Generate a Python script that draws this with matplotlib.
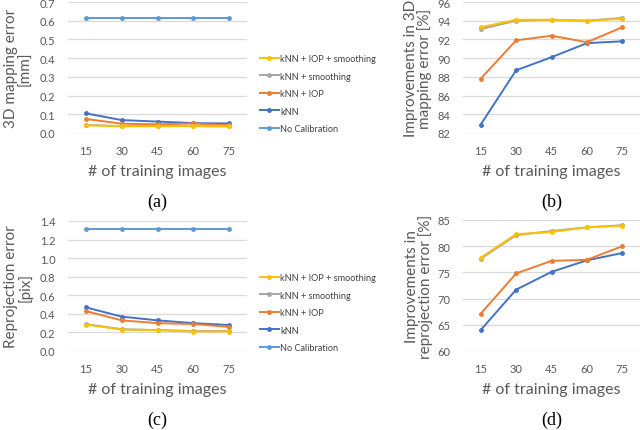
import matplotlib
matplotlib.use("Agg")
import matplotlib.pyplot as plt

plt.rcParams["font.family"] = ["Lato", "DejaVu Sans"]

# ------------------------------------------------------------
# data
# ------------------------------------------------------------
n_images = [15, 30, 45, 60, 75]

series_names = ["No Calibration", "kNN", "kNN + IOP", "kNN + smoothing", "kNN + IOP + smoothing"]
colors = ["#5B9BD5", "#4472C4", "#ED7D31", "#A5A5A5", "#FFC000"]

# (a) 3D mapping error [mm]
map_err = {
    "No Calibration": [0.615, 0.615, 0.615, 0.615, 0.615],
    "kNN": [0.105, 0.069, 0.061, 0.053, 0.051],
    "kNN + IOP": [0.075, 0.050, 0.046, 0.051, 0.041],
    "kNN + smoothing": [0.043, 0.037, 0.037, 0.037, 0.035],
    "kNN + IOP + smoothing": [0.041, 0.036, 0.036, 0.037, 0.036],
}
# (b) improvements in 3D mapping error [%]
map_imp = {
    "kNN": [82.9, 88.7, 90.1, 91.6, 91.8],
    "kNN + IOP": [87.8, 91.9, 92.4, 91.7, 93.3],
    "kNN + smoothing": [93.1, 94.0, 94.1, 94.0, 94.3],
    "kNN + IOP + smoothing": [93.3, 94.1, 94.1, 94.0, 94.2],
}
# (c) reprojection error [pix]
rep_err = {
    "No Calibration": [1.31, 1.31, 1.31, 1.31, 1.31],
    "kNN": [0.47, 0.37, 0.33, 0.30, 0.28],
    "kNN + IOP": [0.43, 0.33, 0.30, 0.29, 0.26],
    "kNN + smoothing": [0.29, 0.235, 0.225, 0.215, 0.215],
    "kNN + IOP + smoothing": [0.285, 0.23, 0.225, 0.21, 0.21],
}
# (d) improvements in reprojection error [%]
rep_imp = {
    "kNN": [64.0, 71.7, 75.1, 77.3, 78.7],
    "kNN + IOP": [67.1, 74.8, 77.2, 77.4, 80.0],
    "kNN + smoothing": [77.6, 82.1, 82.9, 83.6, 84.0],
    "kNN + IOP + smoothing": [77.8, 82.3, 82.7, 83.6, 83.9],
}

W, H = 640, 431
fig = plt.figure(figsize=(W / 100, H / 100), dpi=100)
fig.patch.set_facecolor("white")

TXT = "#595959"


def px(x, y):
    return x / W, 1 - y / H


def px_axes(left, top, right, bottom):
    return fig.add_axes([left / W, 1 - bottom / H, (right - left) / W, (bottom - top) / H])


def style(ax, box, ylim, yticks, fmt, ylabel, caption, label_x):
    left, top, right, bottom = box
    ax.set_xlim(7.5, 82.5)
    ax.set_ylim(*ylim)
    ax.set_yticks(yticks)
    ax.set_yticklabels([fmt.format(v) for v in yticks])
    ax.set_xticks(n_images)
    for s in ax.spines.values():
        s.set_visible(False)
    ax.tick_params(length=0, labelsize=8, colors=TXT, pad=9)
    ax.grid(axis="y", color="#D9D9D9", lw=0.9)
    ax.set_axisbelow(True)
    cx = (left + right) / 2
    fig.text(*px(cx, bottom + 38), "# of training images", fontsize=11.5, color=TXT,
             ha="center", va="center")
    fig.text(*px(label_x, (top + bottom) / 2), ylabel, fontsize=11, color=TXT,
             ha="center", va="center", rotation=90, linespacing=1.0, multialignment="center")
    fig.text(*px(cx, bottom + 68), caption, fontsize=13, family="Liberation Serif",
             color="black", ha="center", va="center")


def draw(ax, data):
    for name, c in zip(series_names, colors):
        if name in data:
            ax.plot(n_images, data[name], color=c, lw=1.4, marker="o", ms=2.5,
                    label=name, clip_on=False)


def legend(ax, x, y):
    h, l = ax.get_legend_handles_labels()
    ax.legend(h[::-1], l[::-1], loc="upper left", bbox_to_anchor=px(x, y),
              bbox_transform=fig.transFigure, frameon=False, fontsize=6.6,
              labelspacing=0.92, handlelength=2.0, handletextpad=0.2, labelcolor="#404040")


# (a)
box_a = (68, 3, 247, 134)
ax_a = px_axes(*box_a)
draw(ax_a, map_err)
style(ax_a, box_a, (0, 0.7), [0.0, 0.1, 0.2, 0.3, 0.4, 0.5, 0.6, 0.7], "{:.1f}",
      "3D mapping error\n[mm]", "(a)", 18)
legend(ax_a, 252, 47)

# (b)
box_b = (463, 3, 640, 134)
ax_b = px_axes(*box_b)
draw(ax_b, map_imp)
style(ax_b, box_b, (82, 96), [82, 84, 86, 88, 90, 92, 94, 96], "{:d}",
      "Improvements in 3D\nmapping error [%]", "(b)", 418)

# (c)
box_c = (68, 222, 247, 352)
ax_c = px_axes(*box_c)
draw(ax_c, rep_err)
style(ax_c, box_c, (0, 1.4), [0.0, 0.2, 0.4, 0.6, 0.8, 1.0, 1.2, 1.4], "{:.1f}",
      "Reprojection error\n[pix]", "(c)", 18)
legend(ax_c, 252, 266)

# (d)
box_d = (463, 221, 640, 352)
ax_d = px_axes(*box_d)
draw(ax_d, rep_imp)
style(ax_d, box_d, (60, 85), [60, 65, 70, 75, 80, 85], "{:d}",
      "Improvements in\nreprojection error [%]", "(d)", 419)

fig.savefig("out.png", dpi=100, facecolor="white")
